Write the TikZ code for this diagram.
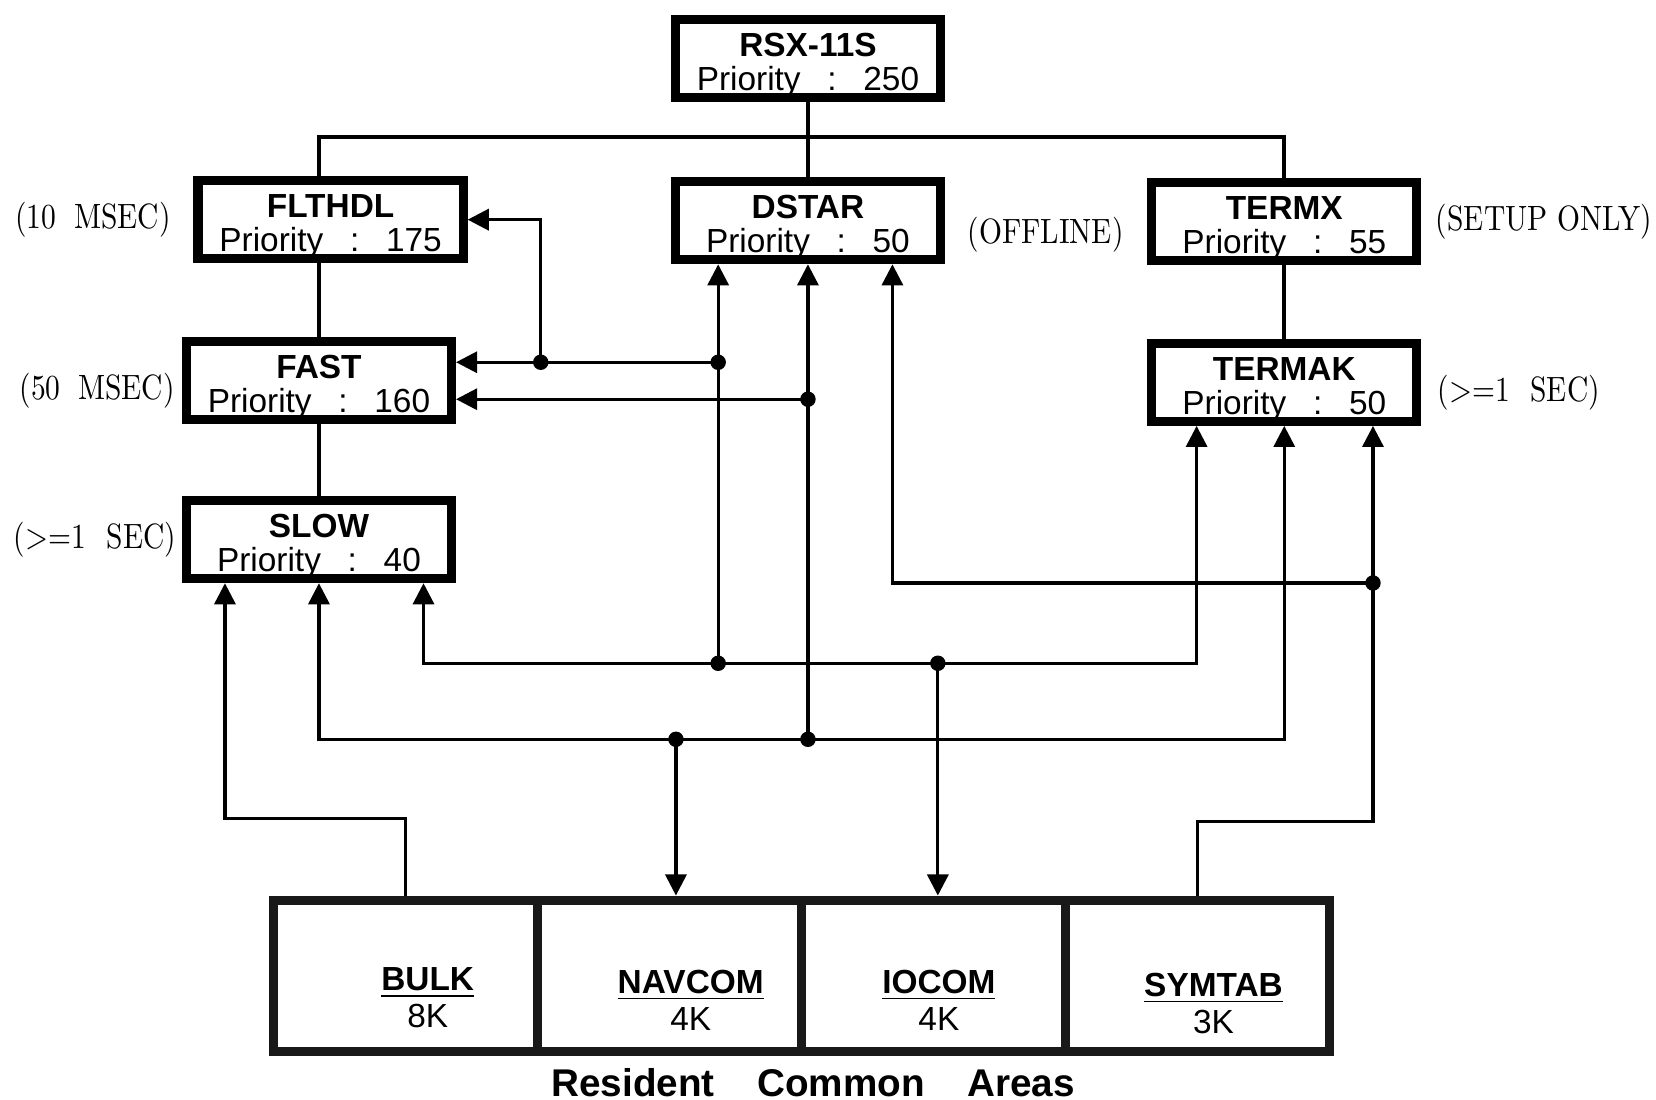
\documentclass[tikz,border=0pt]{standalone}
\usepackage{fontspec}
\usepackage{graphicx}
\usetikzlibrary{calc,arrows.meta}
\newfontfamily\taskfont{Liberation Sans}
\newcommand{\narrow}[1]{\scalebox{0.84}[1]{#1}}
\newcommand{\prio}[1]{Priority\hspace{0.8em}:\hspace{0.8em}#1}
\newcommand{\tsk}[2]{\rule{0pt}{10.5pt}\textbf{#1}\\\prio{#2}}
\tikzstyle{task}=[draw,line width=2.6pt,fill=white,
    minimum width=2.65cm,minimum height=0.78cm,inner sep=0pt,
    align=center,font=\taskfont\fontsize{9.5}{9.7}\selectfont]
\tikzstyle{area}=[draw=black!90,line width=2.6pt,
    minimum width=2.64cm,minimum height=1.515cm,inner sep=0pt]
\tikzstyle{areatext}=[align=center,font=\taskfont\fontsize{9.5}{10.5}\selectfont]
\tikzstyle{note}=[font=\fontsize{10}{12}\selectfont]
\tikzstyle{tree}=[line width=1.2pt]
\tikzstyle{link}=[line width=0.9pt]
\tikzstyle{arr}=[link,-{Triangle[length=6pt,width=6pt]}]

\begin{document}
\begin{tikzpicture}[
x=0.01056cm,y=-0.01056cm
]
\useasboundingbox (0,0) rectangle (1568,1041);
%tasks
\node[task] (rsx) at (765,55) {\tsk{RSX-11S}{250}};
\node[task] (flthdl) at (313,208) {\tsk{FLTHDL}{175}};
\node[task] (dstar) at (765,209) {\tsk{DSTAR}{50}};
\node[task] (termx) at (1216,210) {\tsk{TERMX}{55}};
\node[task] (fast) at (302,360) {\tsk{FAST}{160}};
\node[task] (termak) at (1216,362) {\tsk{TERMAK}{50}};
\node[task] (slow) at (302,511) {\tsk{SLOW}{40}};
%notes
\node[note] (n1) at (88,208) {\narrow{(10\hspace{0.6em}MSEC)}};
\node[note] (n2) at (92,370) {\narrow{(50\hspace{0.6em}MSEC)}};
\node[note] (n3) at (90,511) {\narrow{(>=1\hspace{0.7em}SEC)}};
\node[note] (n4) at (990,222) {\narrow{(OFFLINE)}};
\node[note] (n5) at (1462,210) {\narrow{(SETUP ONLY)}};
\node[note] (n6) at (1438,372) {\narrow{(>=1\hspace{0.7em}SEC)}};
%resident commons
\node[area] (bulk) at (384,924) {};
\node[area] (navcom) at (634,924) {};
\node[area] (iocom) at (884,924) {};
\node[area] (symtab) at (1134,924) {};
\node[areatext] (bulkt) at (405,945) {\underline{\textbf{BULK}}\\8K};
\node[areatext] (navcomt) at (654,947) {\underline{\textbf{NAVCOM}}\\4K};
\node[areatext] (iocomt) at (889,947) {\underline{\textbf{IOCOM}}\\4K};
\node[areatext] (symtabt) at (1149,950) {\underline{\textbf{SYMTAB}}\\3K};
\node[font=\taskfont\bfseries\fontsize{11}{13}\selectfont] (areas) at (770,1025)
    {Resident\hspace{1.1em}Common\hspace{1.1em}Areas};
%task tree
\coordinate (bus) at (765,130);
\draw[tree] (rsx) -- (dstar);
\draw[tree] (fast.north |- flthdl.north) |- (bus) -| (termx.north);
\draw[tree] (fast.north) -- (fast.north |- flthdl.south);
\draw[tree] (fast) -- (slow);
\draw[tree] (termx) -- (termak);
%junctions
\coordinate (ja) at (512,343);
\coordinate (jb) at (680,343);
\coordinate (jc) at (765,378);
\coordinate (jd) at (680,628);
\coordinate (je) at (888,628);
\coordinate (jf) at (640,700);
\coordinate (jg) at (765,700);
\coordinate (jh) at (1300,552);
\coordinate (bk) at (213,775);
\coordinate (sy) at (1300,778);
%links
\draw[arr] (ja) |- (flthdl.east);
\draw[arr] (jb) -- (jb -| fast.east);
\draw[arr] (jc) -- (jc -| fast.east);
\draw[arr] (jd) -- (jd |- dstar.south);
\draw[arr] (jg) -- (jg |- dstar.south);
\draw[arr] (jh) -| ($(dstar.south)+(80,0)$);
\draw[arr] (jd) -| ($(slow.south)+(99,0)$);
\draw[arr] (jd) -| ($(termak.south)+(-83,0)$);
\draw[arr] (je) -- (je |- iocom.north);
\draw[arr] (jg) -| (slow.south);
\draw[arr] (jg) -| (termak.south);
\draw[arr] (jf) -- (jf |- navcom.north);
\draw[arr] (bulk.north) |- (bk) -- (bk |- slow.south);
\draw[arr] (symtab.north) |- (sy) -- (sy |- termak.south);
\fill (ja) circle (2.2pt);
\fill (jb) circle (2.2pt);
\fill (jc) circle (2.2pt);
\fill (jd) circle (2.2pt);
\fill (je) circle (2.2pt);
\fill (jf) circle (2.2pt);
\fill (jg) circle (2.2pt);
\fill (jh) circle (2.2pt);
\end{tikzpicture}
\end{document}
